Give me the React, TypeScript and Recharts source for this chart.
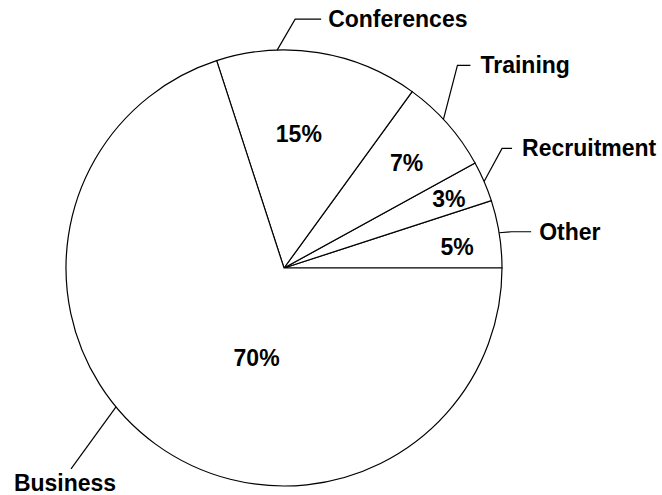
import React from 'react';
import { PieChart, Pie, Cell } from 'recharts';

// slices go counter-clockwise from 3 o'clock, like the reference
const categories = ['Other', 'Recruitment', 'Training', 'Conferences', 'Business'];
const shares = [5, 3, 7, 15, 70];

const data = categories.map((name, i) => ({ name, value: shares[i] }));

// where the percent sits inside each slice: angle (deg) and fraction of radius
const innerSpots = [
    { angle: 6.9, frac: 0.8 },
    { angle: 22.8, frac: 0.82 },
    { angle: 40.5, frac: 0.74 },
    { angle: 83.7, frac: 0.62 },
    { angle: 253, frac: 0.43 },
];

// leader line: starts on the rim at `angle`, bends at (dx, dy), then runs `run` px flat
const leaders = [
    { angle: 9.3, dx: 12, dy: -1, run: 20, gap: 8, anchor: 'start', tx: 0, ty: 0 },
    { angle: 23.4, dx: 18, dy: -33, run: 10, gap: 10, anchor: 'start', tx: 0, ty: 0 },
    { angle: 43, dx: 14, dy: -54, run: 13, gap: 10, anchor: 'start', tx: 0, ty: 0 },
    { angle: 91.8, dx: 18, dy: -31, run: 26, gap: 7, anchor: 'start', tx: 0, ty: 0 },
    { angle: 219.6, dx: -45, dy: 62, run: 0, gap: 0, anchor: 'middle', tx: -6, ty: 14 },
];

const RAD = Math.PI / 180;
const font = { fontFamily: '"Liberation Sans", Arial, sans-serif', fontWeight: 700, fontSize: 23 };

const polar = (cx: number, cy: number, r: number, a: number) => ({
    x: cx + r * Math.cos(-a * RAD),
    y: cy + r * Math.sin(-a * RAD),
});

const renderLabel = (props: any) => {
    const { cx, cy, outerRadius, index, name, value } = props;
    const spot = innerSpots[index];
    const p = polar(cx, cy, outerRadius * spot.frac, spot.angle);
    const l = leaders[index];
    const s = polar(cx, cy, outerRadius, l.angle);
    const bx = s.x + l.dx;
    const by = s.y + l.dy;
    const ex = bx + l.run;
    return (
        <g>
            <text x={p.x} y={p.y} textAnchor="middle" dominantBaseline="central" fill="#000" style={font}>
                {value}%
            </text>
            <polyline points={`${s.x},${s.y} ${bx},${by} ${ex},${by}`} fill="none" stroke="#000" strokeWidth={1.2} />
            <text
                x={ex + l.gap + l.tx}
                y={by + l.ty}
                textAnchor={l.anchor as any}
                dominantBaseline="central"
                fill="#000"
                style={font}
            >
                {name}
            </text>
        </g>
    );
};

const App: React.FC = () => {
    return (
        <div style={{ position: 'absolute', left: 0, top: 0, width: 662, height: 495, background: '#fff' }}>
            <PieChart width={662} height={495} margin={{ top: 0, right: 0, bottom: 0, left: 0 }}>
                <Pie
                    data={data}
                    dataKey="value"
                    nameKey="name"
                    cx={284}
                    cy={268}
                    outerRadius={218}
                    startAngle={0}
                    endAngle={360}
                    stroke="#000"
                    strokeWidth={1.2}
                    label={renderLabel}
                    labelLine={false}
                    isAnimationActive={false}
                >
                    {data.map((entry, index) => (
                        <Cell key={`cell-${index}`} fill="#fff" />
                    ))}
                </Pie>
            </PieChart>
        </div>
    );
};

export default App;
